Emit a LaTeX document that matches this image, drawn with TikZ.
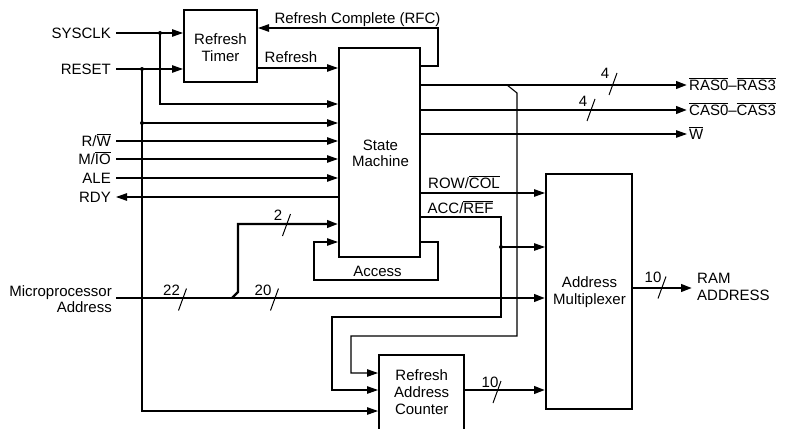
\documentclass[tikz,border=0pt]{standalone}
\usepackage{fontspec}
\setmainfont{Liberation Sans}
\usetikzlibrary{arrows.meta,calc}
\newcommand\ovl[1]{$\overline{\mbox{#1}}$}
\newcommand\busmark[2]{\draw[line width=1pt] (#1,#2) ++(-4,11) -- ++(8,-22);}
\begin{document}
\begin{tikzpicture}[x=1pt,y=-1pt,
  lbl/.style={inner sep=0pt, font=\fontsize{15}{17}\selectfont, text height=10.7pt, text depth=0pt},
  blk/.style={draw, line width=2pt, inner sep=0pt},
  sig/.style={line width=1.1pt},
  bus/.style={line width=2.4pt},
  arr/.style={-{Triangle[length=11pt,width=7.5pt]}},
]
\useasboundingbox (0,0) rectangle (786,428);

% blocks
\node[blk, minimum width=73pt, minimum height=72pt] (timer) at (220.5,46) {};
\node[blk, minimum width=81pt, minimum height=209pt] (sm) at (379.5,152.5) {};
\node[blk, minimum width=86pt, minimum height=235pt] (mux) at (589,291.5) {};
\node[blk, minimum width=85pt, minimum height=76pt] (rac) at (421.5,393) {};

% block texts
\node[lbl] (timerT1) at (220.5,39) {Refresh};
\node[lbl] (timerT2) at (220.5,56) {Timer};
\node[lbl] (smT1) at (380.5,145) {State};
\node[lbl] (smT2) at (380.5,161.5) {Machine};
\node[lbl] (muxT1) at (589.5,282.5) {Address};
\node[lbl] (muxT2) at (589.5,299) {Multiplexer};
\node[lbl] (racT1) at (421.7,375.5) {Refresh};
\node[lbl] (racT2) at (421.7,392.5) {Address};
\node[lbl] (racT3) at (421.7,409.5) {Counter};

% left labels
\node[lbl, anchor=east] (sysclk) at (111,33) {SYSCLK};
\node[lbl, anchor=east] (reset) at (111,69) {RESET};
\node[lbl, anchor=east] (rw) at (111,141) {R/\ovl{W}};
\node[lbl, anchor=east] (mio) at (111,159) {M/\ovl{IO}};
\node[lbl, anchor=east] (ale) at (111,178) {ALE};
\node[lbl, anchor=east] (rdy) at (111,197) {RDY};
\node[lbl, anchor=east] (micro) at (112,291.5) {Microprocessor};
\node[lbl, anchor=east] (maddr) at (112,307) {Address};

% right labels
\node[lbl, anchor=west] (ras) at (689,85) {\ovl{RAS0}--\ovl{RAS3}};
\node[lbl, anchor=west] (cas) at (689,110) {\ovl{CAS0}--\ovl{CAS3}};
\node[lbl, anchor=west] (wout) at (689,134) {\ovl{W}};
\node[lbl, anchor=west] (ram) at (697,278) {RAM};
\node[lbl, anchor=west] (ramaddr) at (697,295.5) {ADDRESS};

% other labels
\node[lbl] (rfcL) at (357.5,18.5) {Refresh Complete (RFC)};
\node[lbl] (refL) at (291,57.5) {Refresh};
\node[lbl] (accessL) at (377.5,271) {Access};
\node[lbl] (rowcolL) at (464,183) {ROW/\ovl{COL}};
\node[lbl] (accrefL) at (460.5,208) {ACC/\ovl{REF}};

% bus width labels
\node[lbl] (n4a) at (605,73) {4};
\node[lbl] (n4b) at (583,101) {4};
\node[lbl] (n2) at (278,215) {2};
\node[lbl] (n22) at (171.5,290) {22};
\node[lbl] (n20) at (263,290) {20};
\node[lbl] (n10a) at (490,382) {10};
\node[lbl] (n10b) at (653,277) {10};
\busmark{613}{84}
\busmark{591}{110}
\busmark{286.5}{225}
\busmark{182.5}{299.5}
\busmark{274.5}{299.5}
\busmark{497}{392}
\busmark{662}{287.5}

% coordinates
\coordinate (jS) at (160,33);
\coordinate (jS2) at (160,104);
\coordinate (jR) at (142,69);
\coordinate (jR2) at (142,123);
\coordinate (jR3) at (142,411);
\coordinate (rfcA) at (438,66);
\coordinate (rfcB) at (438,28);
\coordinate (refY) at (0,68);
\coordinate (dg1) at (507,85);
\coordinate (dg2) at (517,93);
\coordinate (dg3) at (517,336);
\coordinate (dg4) at (351,336);
\coordinate (dg5) at (351,373);
\coordinate (rowY) at (0,193);
\coordinate (ar1) at (501,217);
\coordinate (ar2) at (501,317);
\coordinate (ar3) at (332,317);
\coordinate (ar4) at (332,390);
\coordinate (jA) at (501,247);
\coordinate (ac1) at (438,242);
\coordinate (ac2) at (438,280);
\coordinate (ac3) at (314,280);
\coordinate (ac4) at (314,242);
\coordinate (mpA) at (116,298);
\coordinate (b1) at (232,298);
\coordinate (b2) at (238,292);
\coordinate (b3) at (238,224);
\coordinate (muxoutY) at (0,288);

% left inputs
\draw[sig,arr] ([xshift=5pt]sysclk.east) -- (timer.west |- sysclk.east);
\draw[sig,arr] ([xshift=5pt]reset.east) -- (timer.west |- reset.east);
\draw[sig,arr] (jS) -- (jS2) -- (sm.west |- jS2);
\draw[sig,arr] (jR) -- (jR3) -- (rac.west |- jR3);
\draw[sig,arr] (jR2) -- (sm.west |- jR2);
\draw[sig,arr] ([xshift=5pt]rw.east) -- (sm.west |- rw.east);
\draw[sig,arr] ([xshift=5pt]mio.east) -- (sm.west |- mio.east);
\draw[sig,arr] ([xshift=5pt]ale.east) -- (sm.west |- ale.east);
\draw[sig,arr] (sm.west |- rdy.east) -- ([xshift=5pt]rdy.east);
\foreach \p in {jS,jR,jR2,jA} \fill (\p) circle (2pt);

% timer <-> state machine
\draw[sig,arr] (timer.east |- refY) -- (sm.west |- refY);
\draw[sig,arr] (sm.east |- rfcA) -- (rfcA) -- (rfcB) -- (timer.east |- rfcB);

% outputs
\draw[bus,arr] (sm.east |- ras.west) -- ([xshift=-2pt]ras.west);
\draw[bus,arr] (sm.east |- cas.west) -- ([xshift=-2pt]cas.west);
\draw[sig,arr] (sm.east |- wout.west) -- ([xshift=-2pt]wout.west);
\draw[sig,arr] (dg1) -- (dg2) -- (dg3) -- (dg4) -- (dg5) -- (rac.west |- dg5);

% row/col and acc/ref
\draw[sig,arr] (sm.east |- rowY) -- (mux.west |- rowY);
\draw[sig,arr] (sm.east |- ar1) -- (ar1) -- (ar2) -- (ar3) -- (ar4) -- (rac.west |- ar4);
\draw[sig,arr] (jA) -- (mux.west |- jA);

% access loop
\draw[sig,arr] (sm.east |- ac1) -- (ac1) -- (ac2) -- (ac3) -- (ac4) -- (sm.west |- ac4);

% address buses
\draw[bus,arr] (mpA) -- (mux.west |- mpA);
\draw[bus,arr] (b1) -- (b2) -- (b3) -- (sm.west |- b3);
\draw[bus,arr] (rac.east |- ar4) -- (mux.west |- ar4);
\draw[bus,arr] (mux.east |- muxoutY) -- ([xshift=-5pt]ram.west |- muxoutY);
\end{tikzpicture}
\end{document}
